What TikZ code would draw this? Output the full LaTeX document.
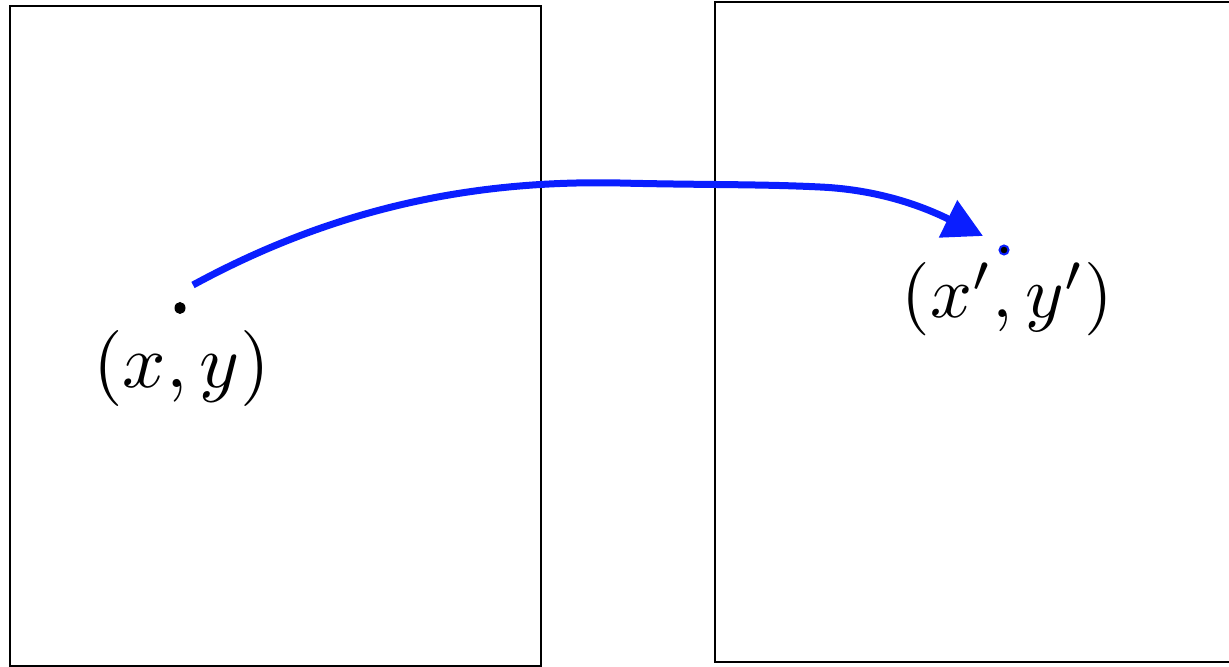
\documentclass[tikz,border=0pt]{standalone}
\usetikzlibrary{arrows.meta,shapes.geometric}
\definecolor{arrowblue}{RGB}{10,30,255}
\tikzset{
  frame/.style={draw=black, line width=1pt},
  flow/.style={draw=arrowblue, line width=3.5pt, -{Triangle[length=19.5pt,width=20pt]}},
  dotl/.style={ellipse, fill=black, inner sep=0pt, minimum width=5.5pt, minimum height=6pt},
  dotr/.style={circle, fill=black, draw=arrowblue, line width=1pt, inner sep=0pt, minimum size=4.5pt},
  lbl/.style={inner sep=0pt, anchor=base}
}
\begin{document}
\begin{tikzpicture}[x=0.5pt,y=-0.5pt]
\useasboundingbox (0,0) rectangle (1229,667);
\clip (0,0) rectangle (1229,667);
\draw[frame] (10,6) rectangle (541,666);
\draw[frame] (715,2) rectangle (1240,662);
\node[dotl] (p) at (180,308) {};
\node[dotr] (q) at (1004,250) {};
\node[lbl, scale=3.8] (lp) at (181.5,387) {$(x,y)$};
\node[lbl, scale=3.67] (lq) at (1007.5,318) {$(x',y')$};
\coordinate (s) at (193,285);
\coordinate (t) at (983,236);
\draw[flow] (s) .. controls (340,205) and (480,180) .. (620,183)
  .. controls (700,185) and (760,184) .. (820,187)
  .. controls (885,190) and (930,210) .. (t);
\end{tikzpicture}
\end{document}
